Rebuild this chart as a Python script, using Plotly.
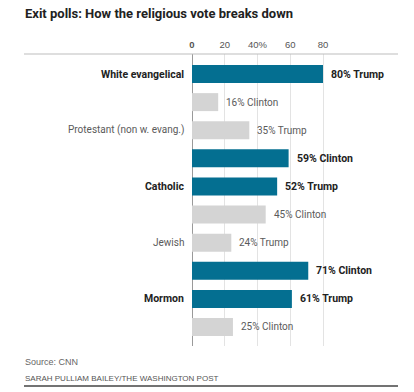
import plotly.graph_objects as go

# ---- data ----
groups = ["White evangelical", "", "Protestant (non w. evang.)", "", "Catholic", "",
          "Jewish", "", "Mormon", ""]
group_bold = [True, False, False, False, True, False, False, False, True, False]
values = [80, 16, 35, 59, 52, 45, 24, 71, 61, 25]
candidates = ["Trump", "Clinton", "Trump", "Clinton", "Trump", "Clinton",
              "Trump", "Clinton", "Trump", "Clinton"]
highlight = [True, False, False, True, True, False, False, True, True, False]
tick_vals = [0, 20, 40, 60, 80]
tick_text = ["<b>0</b>", "20", "40%", "60", "80"]

BLUE = "#046f91"
GRAY = "#d4d4d4"
FONT = "Liberation Sans, Arial, sans-serif"
LABEL = "Roboto, Liberation Sans, sans-serif"

W, H = 414, 392
L, R, T, B = 192, 16, 54, 46
pw = W - L - R
ph = H - T - B


def px_x(x):
    return (x - L) / pw


def px_y(y):
    return (H - B - y) / ph


pos = list(range(len(values)))
colors = [BLUE if h else GRAY for h in highlight]

fig = go.Figure()
fig.add_trace(go.Bar(
    x=values, y=pos, orientation="h",
    marker=dict(color=colors, line=dict(width=0)),
    width=0.64, hoverinfo="skip",
))

annotations = []
for p, v, c, h in zip(pos, values, candidates, highlight):
    txt = f"{v}% {c}"
    annotations.append(dict(
        x=v, y=p, xref="x", yref="y", xanchor="left", yanchor="middle",
        xshift=6, showarrow=False,
        text=f"<b>{txt}</b>" if h else txt,
        font=dict(family=LABEL, size=10.5 if h else 10, color="#222222" if h else "#5a5a5a"),
    ))
for p, g, b in zip(pos, groups, group_bold):
    if not g:
        continue
    annotations.append(dict(
        x=0, y=p, xref="x", yref="y", xanchor="right", yanchor="middle",
        xshift=-6, showarrow=False,
        text=f"<b>{g}</b>" if b else g,
        font=dict(family=LABEL, size=10.5 if b else 10, color="#222222" if b else "#5a5a5a"),
    ))

annotations += [
    dict(x=px_x(23), y=px_y(13), xref="paper", yref="paper",
         text="<b>Exit polls: How the religious vote breaks down</b>",
         showarrow=False, xanchor="left", yanchor="middle",
         font=dict(family=LABEL, size=13, color="#222222")),
    dict(x=px_x(23), y=px_y(362), xref="paper", yref="paper",
         text="Source: CNN", showarrow=False, xanchor="left", yanchor="middle",
         font=dict(family=FONT, size=9, color="#666666")),
    dict(x=px_x(23), y=px_y(379), xref="paper", yref="paper",
         text="SARAH PULLIAM BAILEY/THE WASHINGTON POST", showarrow=False,
         xanchor="left", yanchor="middle",
         font=dict(family=FONT, size=8, color="#555555")),
]

shapes = [
    dict(type="line", xref="paper", yref="paper", x0=px_x(24), x1=px_x(398),
         y0=1, y1=1, line=dict(color="#bdbdbd", width=1)),
    dict(type="line", xref="paper", yref="paper", x0=px_x(24), x1=px_x(398),
         y0=px_y(386), y1=px_y(386), line=dict(color="#444444", width=1.5)),
]

fig.update_layout(
    width=W, height=H,
    margin=dict(l=L, r=R, t=T, b=B, pad=0),
    paper_bgcolor="white", plot_bgcolor="white",
    showlegend=False,
    xaxis=dict(side="top", range=[0, pw / 1.6375], tickvals=tick_vals, ticktext=tick_text,
               showgrid=True, gridcolor="#e3e3e3", gridwidth=1,
               zeroline=True, zerolinecolor="#9a9a9a", zerolinewidth=1,
               ticks="", ticklabelstandoff=3, showline=False,
               tickfont=dict(family=FONT, size=9.5, color="#555555"), fixedrange=True),
    yaxis=dict(range=[9 + 19 / 28.1, -20 / 28.1], showticklabels=False, showgrid=False,
               zeroline=False, showline=False, fixedrange=True),
    annotations=annotations,
    shapes=shapes,
)

fig.write_html("out.html", config={"displayModeBar": False},
               post_script="document.body.style.margin='0';document.body.style.overflow='hidden';")
